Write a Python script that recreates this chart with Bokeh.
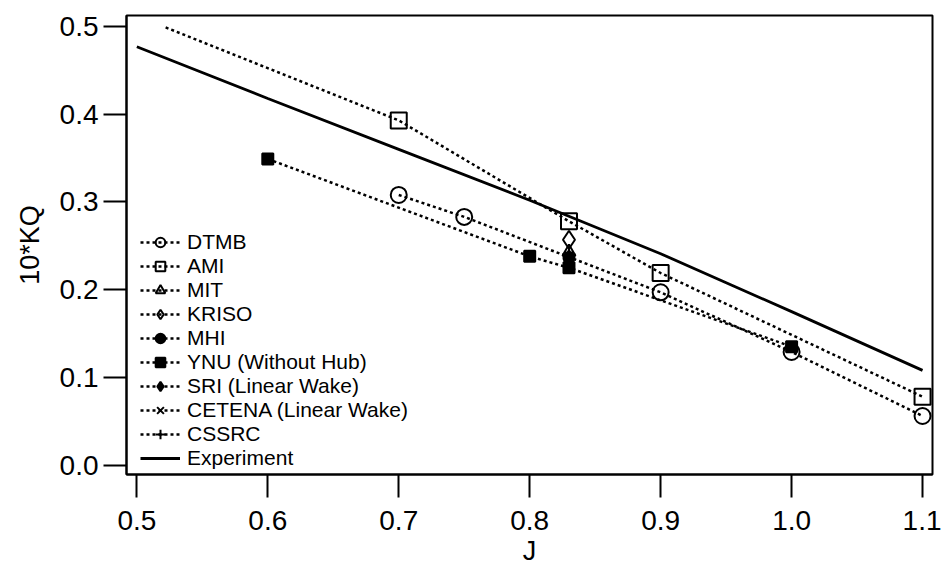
from bokeh.plotting import figure
from bokeh.models import Range1d, FixedTicker, Legend, LegendItem, NumeralTickFormatter
from bokeh.embed import file_html
from bokeh.resources import INLINE

# ---- data ----
J_TICKS = [0.5, 0.6, 0.7, 0.8, 0.9, 1.0, 1.1]
KQ_TICKS = [0.0, 0.1, 0.2, 0.3, 0.4, 0.5]

dtmb_j = [0.70, 0.75, 0.90, 1.00, 1.10]
dtmb_kq = [0.308, 0.283, 0.197, 0.129, 0.056]

ami_line_j = [0.522, 0.70, 0.83, 0.90, 1.10]
ami_line_kq = [0.499, 0.393, 0.278, 0.219, 0.078]
ami_j = [0.70, 0.83, 0.90, 1.10]
ami_kq = [0.393, 0.278, 0.219, 0.078]

mit_j = [0.83]
mit_kq = [0.243]
kriso_j = [0.83]
kriso_kq = [0.257]
mhi_j = [0.83]
mhi_kq = [0.236]

ynu_j = [0.60, 0.80, 0.83, 1.00]
ynu_kq = [0.349, 0.238, 0.225, 0.135]

sri_j = [0.83]
sri_kq = [0.237]
cetena_j = [0.83]
cetena_kq = [0.239]
cssrc_j = [0.83]
cssrc_kq = [0.240]

exp_j = [0.50, 0.60, 0.70, 0.80, 0.90, 1.00, 1.10]
exp_kq = [0.477, 0.418, 0.360, 0.302, 0.241, 0.175, 0.108]

FONT = "Liberation Sans"

p = figure(width=941, height=569, output_backend="svg", toolbar_location=None,
           x_range=Range1d(0.4921, 1.1076), y_range=Range1d(-0.0107, 0.5126),
           min_border_left=126, min_border_right=9, min_border_top=15,
           min_border_bottom=95, background_fill_color="white",
           border_fill_color="white")
p.xgrid.visible = False
p.ygrid.visible = False
p.outline_line_color = "black"
p.outline_line_width = 2
p.outline_line_alpha = 1

for ax in (p.xaxis[0], p.yaxis[0]):
    ax.axis_line_color = "black"
    ax.axis_line_width = 2
    ax.major_tick_in = 0
    ax.major_tick_line_color = "black"
    ax.major_tick_line_width = 2
    ax.minor_tick_line_color = None
    ax.major_label_text_font = FONT
    ax.major_label_text_font_size = "28px"
    ax.major_label_text_color = "black"
    ax.axis_label_text_font = FONT
    ax.axis_label_text_font_size = "27px"
    ax.axis_label_text_font_style = "normal"
    ax.axis_label_text_color = "black"
    ax.formatter = NumeralTickFormatter(format="0.0")

p.xaxis.ticker = FixedTicker(ticks=J_TICKS)
p.yaxis.ticker = FixedTicker(ticks=KQ_TICKS)
p.xaxis.major_tick_out = 23
p.yaxis.major_tick_out = 23
p.xaxis.major_label_standoff = 13
p.yaxis.major_label_standoff = 5
p.xaxis.axis_label = "J"
p.yaxis.axis_label = "10*KQ"
p.xaxis.axis_label_standoff = 3
p.yaxis.axis_label_standoff = 12

DASH = "3 3"
LW = 2.5
C = "black"

items = []

def series(label, lj, lk, mj, mk, marker, size, filled):
    lr = p.line(lj, lk, line_color=C, line_width=LW, line_dash=DASH)
    sr = p.scatter(mj, mk, marker=marker, size=size, line_color=C, line_width=2,
                   fill_color=C if filled else None)
    items.append(LegendItem(label=label, renderers=[lr, sr]))

series("DTMB", dtmb_j, dtmb_kq, dtmb_j, dtmb_kq, "circle", 16, False)
series("AMI", ami_line_j, ami_line_kq, ami_j, ami_kq, "square", 16, False)
series("MIT", mit_j, mit_kq, mit_j, mit_kq, "triangle", 13, False)
series("KRISO", kriso_j, kriso_kq, kriso_j, kriso_kq, "diamond", 18, False)
series("MHI", mhi_j, mhi_kq, mhi_j, mhi_kq, "circle", 11, True)
series("YNU (Without Hub)", ynu_j, ynu_kq, ynu_j, ynu_kq, "square", 11, True)
series("SRI (Linear Wake)", sri_j, sri_kq, sri_j, sri_kq, "diamond", 14, True)
series("CETENA (Linear Wake)", cetena_j, cetena_kq, cetena_j, cetena_kq, "x", 12, False)
series("CSSRC", cssrc_j, cssrc_kq, cssrc_j, cssrc_kq, "cross", 13, False)

er = p.line(exp_j, exp_kq, line_color=C, line_width=2.8)
items.append(LegendItem(label="Experiment", renderers=[er]))

legend = Legend(items=items, location=(14, 4), border_line_color=None,
                background_fill_alpha=0, label_text_font=FONT,
                label_text_font_size="21px", label_text_color="black",
                label_height=24, glyph_height=24, glyph_width=40,
                label_standoff=7, spacing=0, padding=0, margin=0)
p.add_layout(legend)

open("out.html", "w").write(file_html(p, INLINE))
